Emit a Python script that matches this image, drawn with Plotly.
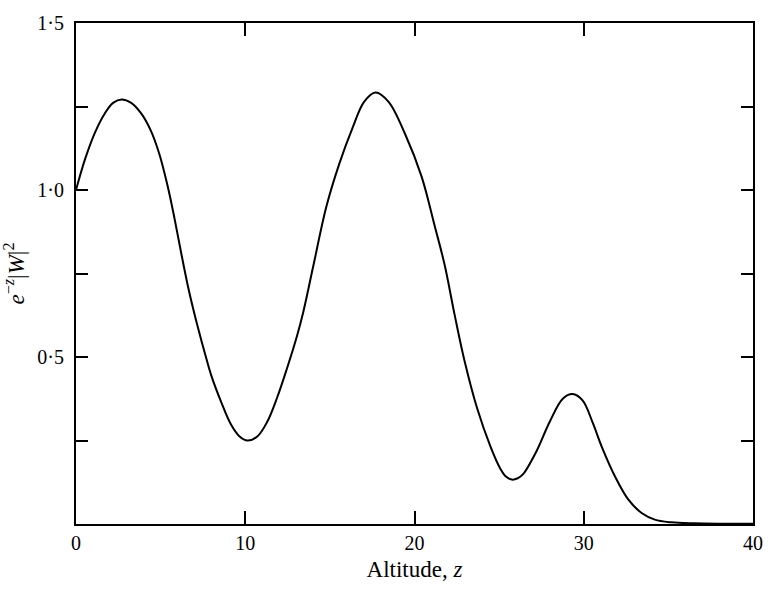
import plotly.graph_objects as go

altitude = [0, 0.54, 1.12, 1.71, 2.19, 2.70, 3.26, 3.84, 4.42, 4.91, 5.40, 5.80, 6.20, 6.60,
            6.93, 7.22, 7.61, 7.99, 8.58, 9.16, 9.65, 10.13, 10.71, 11.30, 11.88, 12.46, 13.04,
            13.43, 14.01, 14.79, 15.56, 16.34, 17.02, 17.70, 18.47, 19.45, 20.42, 21.19, 21.78,
            22.36, 22.94, 23.71, 24.49, 25.08, 25.40, 25.75, 26.10, 26.43, 27.21, 27.99, 28.76,
            29.34, 29.93, 30.51, 31.09, 31.87, 32.65, 33.42, 34.20, 35.17, 36.5, 38, 40]
intensity = [1.0, 1.093, 1.172, 1.230, 1.261, 1.271, 1.261, 1.230, 1.178, 1.110, 1.015, 0.920,
             0.815, 0.715, 0.643, 0.585, 0.512, 0.445, 0.365, 0.298, 0.263, 0.250, 0.262, 0.306,
             0.378, 0.465, 0.560, 0.635, 0.770, 0.950, 1.079, 1.186, 1.264, 1.292, 1.264, 1.167,
             1.040, 0.893, 0.776, 0.629, 0.492, 0.345, 0.232, 0.165, 0.142, 0.133, 0.137, 0.150,
             0.218, 0.306, 0.375, 0.389, 0.370, 0.306, 0.228, 0.140, 0.072, 0.033, 0.013, 0.005,
             0.002, 0.001, 0.001]

x_tickvals = [0, 10, 20, 30, 40]
x_ticktext = ["0", "10", "20", "30", "40"]
y_tickvals = [0.5, 1.0, 1.5]
y_ticktext = ["0·5", "1·0", "1·5"]

FONT = "Liberation Serif, Times New Roman, serif"

fig = go.Figure()
fig.add_trace(go.Scatter(
    x=altitude, y=intensity, mode="lines",
    line=dict(color="black", width=2, shape="spline", smoothing=1.0),
    showlegend=False, hoverinfo="skip",
))

axis_common = dict(
    showgrid=False, zeroline=False, showline=True, linecolor="black", linewidth=2,
    mirror="ticks", ticks="inside", tickcolor="black", tickwidth=2,
    tickfont=dict(family=FONT, size=20, color="black"),
)

fig.update_layout(
    width=775, height=593,
    margin=dict(l=76, r=12, t=13, b=69),
    paper_bgcolor="white", plot_bgcolor="white",
    font=dict(family=FONT, color="black"),
    xaxis=dict(
        range=[0, 40], tickmode="array", tickvals=x_tickvals, ticktext=x_ticktext,
        ticklen=13,
        title=dict(text="Altitude, <i>z</i>", font=dict(family=FONT, size=23), standoff=8),
        **axis_common,
    ),
    yaxis=dict(
        range=[0, 1.5], tickmode="array", tickvals=y_tickvals, ticktext=y_ticktext,
        ticklen=12, ticklabelstandoff=6,
        minor=dict(tick0=0, dtick=0.25, ticks="inside", ticklen=12, tickwidth=2,
                   tickcolor="black", showgrid=False),
        title=dict(text="<i>e</i><sup>−<i>z</i></sup>|<i>W</i>|<sup>2</sup>",
                   font=dict(family=FONT, size=23), standoff=8),
        **axis_common,
    ),
)

fig.write_html("out.html")
